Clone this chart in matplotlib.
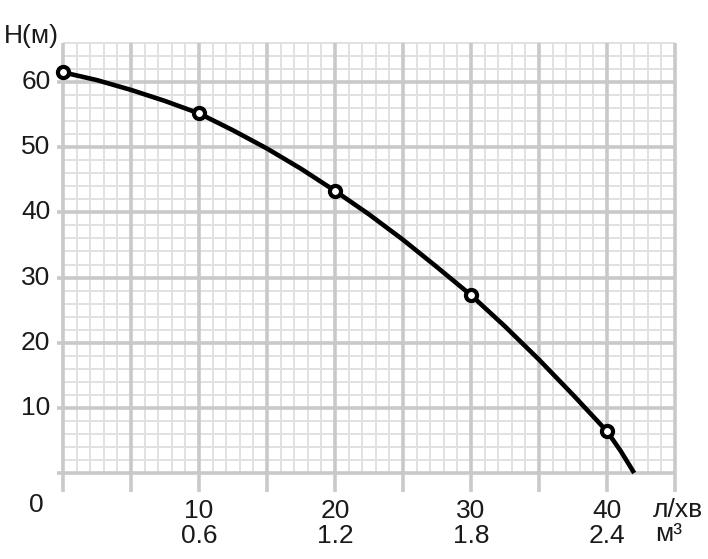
import numpy as np
import matplotlib
matplotlib.use("Agg")
import matplotlib.pyplot as plt

plt.rcParams['font.family'] = ['Liberation Sans', 'DejaVu Sans']

# pump curve (flow l/min, head m)
curve_flow = [0, 2.5, 5, 7.5, 10, 12.5, 15, 17.5, 20, 22.5, 25, 27.5, 30,
              32.5, 35, 37.5, 40, 41, 42]
curve_head = [61.5, 60.3, 58.8, 57.1, 55.2, 52.6, 49.8, 46.7, 43.3, 39.7,
              35.8, 31.6, 27.3, 22.5, 17.4, 12.0, 6.4, 3.4, 0.0]

# marked points on the curve
point_flow = [0, 10, 20, 30, 40]
point_head = [61.5, 55.2, 43.3, 27.3, 6.4]

x_ticks = [10, 20, 30, 40]
x_labels = ["10", "20", "30", "40"]
x_labels_m3 = ["0.6", "1.2", "1.8", "2.4"]
y_ticks = [10, 20, 30, 40, 50, 60]

xmax, ymax = 45, 66
major_col = "#c9c9c9"
minor_col = "#e1e1e1"
text_col = "#1a1a1a"
fs = 19

fig = plt.figure(figsize=(7.08, 5.59), dpi=100)
ax = fig.add_axes([63/708, 1 - 473/559, 612/708, 430/559])
ax.set_xlim(0, xmax)
ax.set_ylim(0, ymax)

# minor grid
xs_minor = [v for v in range(0, xmax + 1) if v % 5]
ys_minor = [v for v in range(0, ymax + 1, 2) if v % 10]
ax.vlines(xs_minor, 0, ymax, colors=minor_col, lw=1.4, zorder=1, clip_on=False)
ax.hlines(ys_minor, 0, xmax, colors=minor_col, lw=1.4, zorder=1, clip_on=False)

# major grid, sticking out a bit below and to the left
xs_major = list(range(0, xmax + 1, 5))
ys_major = list(range(0, ymax, 10))
ax.vlines(xs_major, -2.9, ymax, colors=major_col, lw=2.6, zorder=2, clip_on=False)
ax.hlines(ys_major, -0.45, xmax, colors=major_col, lw=2.6, zorder=2, clip_on=False)

ax.plot(curve_flow, curve_head, color="black", lw=3.3, zorder=4,
        solid_capstyle="butt", clip_on=False)
ax.plot(point_flow, point_head, ls="none", marker="o", ms=8, mew=3.0,
        mfc="white", mec="black", zorder=5, clip_on=False)

for s in ax.spines.values():
    s.set_visible(False)

ax.set_yticks(y_ticks)
ax.set_yticklabels([str(v) for v in y_ticks])
ax.set_xticks(x_ticks)
ax.set_xticklabels(x_labels)
ax.tick_params(axis="both", length=0, labelsize=fs, colors=text_col)
ax.tick_params(axis="y", pad=9)
ax.tick_params(axis="x", pad=19)
for lab in ax.get_yticklabels():
    lab.set_va("center")

for xv, lab in zip(x_ticks, x_labels_m3):
    ax.annotate(lab, (xv, 0), xycoords=("data", "axes fraction"),
                xytext=(0, -37), textcoords="offset points",
                ha="center", va="top", fontsize=fs, color=text_col)

fig.text(36/708, 1 - 505/559, "0", ha="center", va="center", fontsize=fs,
         color=text_col)
fig.text(653/708, 1 - 510/559, "л/хв", ha="left", va="center", fontsize=fs,
         color=text_col)
fig.text(655/708, 1 - 534/559, "м³", ha="left", va="center", fontsize=fs,
         color=text_col)
fig.text(4/708, 1 - 36/559, "H(м)", ha="left", va="center", fontsize=fs,
         color=text_col)

fig.savefig("out.png", dpi=100)
